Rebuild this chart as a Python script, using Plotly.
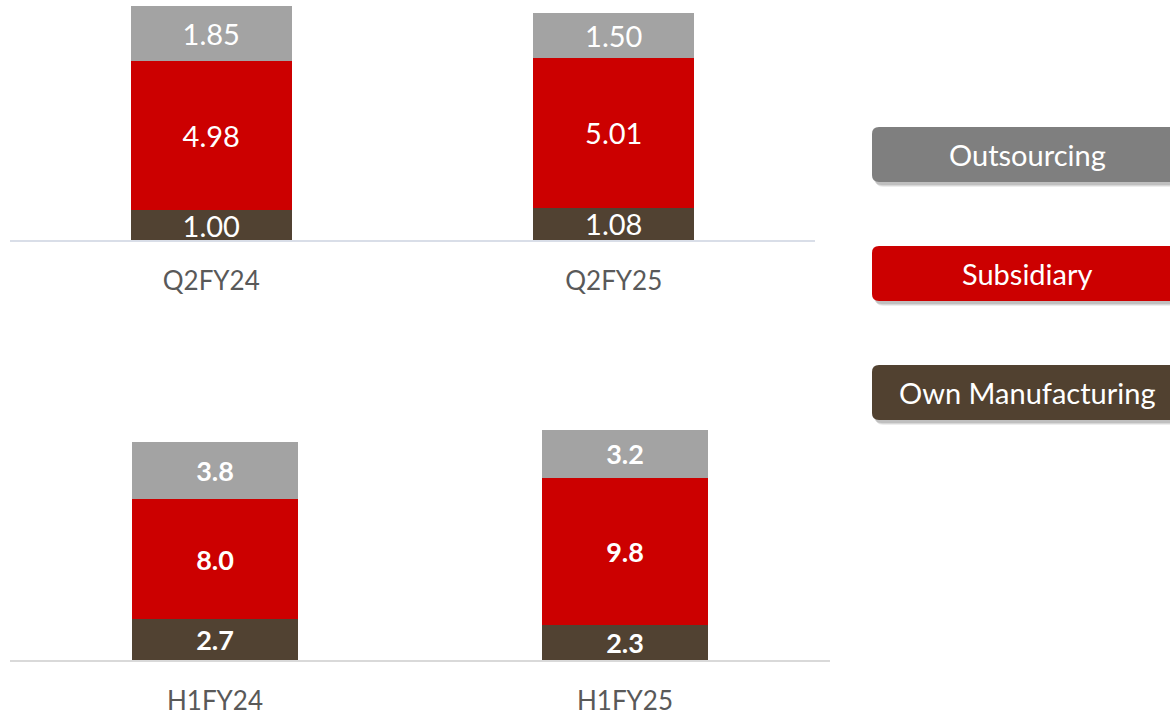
import plotly.graph_objects as go

W, H = 1170, 716
OFF = 0  # page body margin removed via post_script
FW, FH = W - OFF, H - OFF

# ---- data ----
q_categories = ["Q2FY24", "Q2FY25"]
q_own = [1.00, 1.08]
q_subsidiary = [4.98, 5.01]
q_outsourcing = [1.85, 1.50]

h_categories = ["H1FY24", "H1FY25"]
h_own = [2.7, 2.3]
h_subsidiary = [8.0, 9.8]
h_outsourcing = [3.8, 3.2]

series_names = ["Own Manufacturing", "Subsidiary", "Outsourcing"]
colors = {"Own Manufacturing": "#514232", "Subsidiary": "#cc0000", "Outsourcing": "#a3a3a3"}
legend_colors = {"Outsourcing": "#7f7f7f", "Subsidiary": "#cc0000", "Own Manufacturing": "#514130"}

FONT = "Lato"

fig = go.Figure()

def add_stack(cats, own, sub, out, xa, ya, fmt, size, bold):
    vals = {"Own Manufacturing": own, "Subsidiary": sub, "Outsourcing": out}
    for name in series_names:
        v = vals[name]
        txt = [fmt.format(x) for x in v]
        if bold:
            txt = ["<b>" + t + "</b>" for t in txt]
        fig.add_trace(go.Bar(
            x=cats, y=v, name=name, xaxis=xa, yaxis=ya,
            marker=dict(color=colors[name], line=dict(width=0)),
            text=txt, textposition="inside", insidetextanchor="middle",
            constraintext="none", textangle=0,
            textfont=dict(family=FONT, size=size, color="white"),
            hoverinfo="skip", showlegend=False,
        ))

add_stack(q_categories, q_own, q_subsidiary, q_outsourcing, "x", "y", "{:.2f}", 29, False)
add_stack(h_categories, h_own, h_subsidiary, h_outsourcing, "x2", "y2", "{:.1f}", 27, True)

def px_x(p):
    return (p - OFF) / FW

def px_y(p):
    return 1 - (p - OFF) / FH

fig.update_layout(
    width=FW, height=FH,
    margin=dict(l=0, r=0, t=0, b=0),
    paper_bgcolor="white", plot_bgcolor="white",
    barmode="stack",
    bargap=0.6,
    xaxis=dict(domain=[px_x(10), px_x(815)], anchor="y", showgrid=False,
               showline=True, linecolor="#d9dee8", linewidth=2,
               ticks="", tickfont=dict(family=FONT, size=26, color="#595959"),
               ticklabelstandoff=17, fixedrange=True),
    yaxis=dict(domain=[px_y(240), 1], range=[0, 240 / 29.9], visible=False,
               anchor="x", fixedrange=True),
    xaxis2=dict(domain=[px_x(10), px_x(830)], anchor="y2", showgrid=False,
                showline=True, linecolor="#d9d9d9", linewidth=2,
                ticks="", tickfont=dict(family=FONT, size=26, color="#595959"),
                ticklabelstandoff=17, fixedrange=True),
    yaxis2=dict(domain=[px_y(660), px_y(420)], range=[0, 240 / 15.05], visible=False,
                anchor="x2", fixedrange=True),
)

for tr in fig.data:
    tr.width = 0.40 if tr.xaxis == "x" else 0.405

def rounded_path(x0, y0, x1, y1, r):
    def P(x, y):
        return f"{px_x(x):.5f},{px_y(y):.5f}"
    return (f"M {P(x0 + r, y0)} L {P(x1 - r, y0)} Q {P(x1, y0)} {P(x1, y0 + r)} "
            f"L {P(x1, y1 - r)} Q {P(x1, y1)} {P(x1 - r, y1)} L {P(x0 + r, y1)} "
            f"Q {P(x0, y1)} {P(x0, y1 - r)} L {P(x0, y0 + r)} Q {P(x0, y0)} {P(x0 + r, y0)} Z")

legend_rows = [("Outsourcing", 127), ("Subsidiary", 246), ("Own Manufacturing", 365)]
shapes = []
annotations = []
for name, top in legend_rows:
    x0, x1, y0, y1 = 872, 1182, top, top + 55
    for off, op in [(5, 0.07), (4, 0.09), (3, 0.11)]:
        shapes.append(dict(type="path", xref="paper", yref="paper",
                           path=rounded_path(x0 + off - 1, y0 + off, x1 + off, y1 + off, 7),
                           fillcolor=f"rgba(0,0,0,{op})", line=dict(width=0), layer="above"))
    shapes.append(dict(type="path", xref="paper", yref="paper",
                       path=rounded_path(x0, y0, x1, y1, 7),
                       fillcolor=legend_colors[name], line=dict(width=0), layer="above"))
    annotations.append(dict(x=px_x(1027), y=px_y((y0 + y1) / 2), xref="paper", yref="paper",
                            text=name, showarrow=False, xanchor="center", yanchor="middle",
                            font=dict(family=FONT, size=29, color="white")))

fig.update_layout(shapes=shapes, annotations=annotations)

fig.write_html("out.html",
               config={"displayModeBar": False},
               post_script="document.body.style.margin='0';document.body.style.overflow='hidden';")
